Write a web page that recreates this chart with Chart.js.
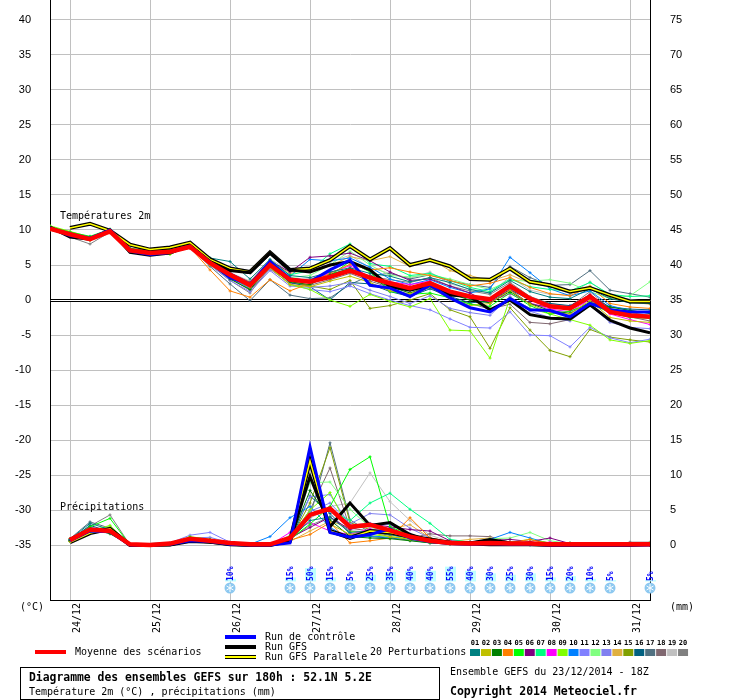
<!DOCTYPE html>
<html>
<head>
<meta charset="utf-8">
<script src="https://cdn.jsdelivr.net/npm/chart.js@4.4.1/dist/chart.umd.min.js"></script>
<style>
  html, body { margin: 0; padding: 0; background: #fff; }
  canvas { display: block; }
</style>
</head>
<body>
<canvas id="gefs" width="740" height="700"></canvas>
<script>
// time steps: 0..30, every 6h from 23/12 18Z (0h) to 180h
const dayLabels = ['24/12', '25/12', '26/12', '27/12', '28/12', '29/12', '30/12', '31/12'];
const dayIdx = [1, 5, 9, 13, 17, 21, 25, 29];
const leftTicks = [-35, -30, -25, -20, -15, -10, -5, 0, 5, 10, 15, 20, 25, 30, 35, 40];
const rightTicks = [0, 5, 10, 15, 20, 25, 30, 35, 40, 45, 50, 55, 60, 65, 70, 75];

const pertColors = ['#008080', '#c0c000', '#008000', '#ff8000', '#00ff00', '#800080', '#00ff80', '#ff00ff', '#80ff00', '#0080ff',
                    '#8080ff', '#80ff80', '#8080f0', '#e0b040', '#80a000', '#006080', '#507080', '#806870', '#c0c0c0', '#808080'];

// temperature 2m (°C)
const tMean    = [10.2, 9.4, 8.7, 9.8, 7.1, 6.7, 6.9, 7.6, 5.3, 3.6, 2.1, 5.0, 2.9, 2.6, 3.3, 4.2, 3.2, 2.4, 1.7, 2.4, 1.2, 0.5, 0.1, 2.0, 0.2, -0.9, -1.2, 0.5, -1.7, -2.2, -2.4];
const tControl = [10.3, 9.2, 8.8, 10.0, 7.0, 6.5, 6.8, 7.7, 5.4, 3.2, 2.2, 5.5, 3.0, 2.6, 4.3, 5.7, 2.1, 1.7, 0.5, 2.1, 0.3, -1.1, -1.7, 0.2, -1.4, -1.5, -2.4, -0.5, -1.4, -1.7, -1.7];
const tGfs     = [10.4, 9.0, 8.7, 10.0, 6.8, 6.4, 6.7, 7.8, 5.5, 4.2, 3.9, 6.7, 4.3, 4.0, 5.0, 5.5, 4.3, 1.9, 1.4, 2.1, 0.7, 0.5, -1.4, 0.0, -2.1, -2.6, -2.7, -0.7, -2.9, -4.0, -4.7];
const tPar     = [null, 10.3, 10.9, 9.9, 7.9, 7.2, 7.5, 8.2, 5.8, 4.5, 4.0, 6.8, 4.3, 4.5, 5.7, 7.7, 5.8, 7.4, 5.0, 5.7, 4.8, 3.0, 2.9, 4.5, 2.6, 2.1, 1.2, 1.7, 0.7, -0.2, -0.2];
const tPert = [
  [10.4, 9.6, 9.0, 10.0, 7.3, 6.9, 7.1, 7.9, 6.0, 5.5, 3.0, 5.8, 3.5, 3.2, 4.0, 4.6, 3.8, 3.4, 2.6, 3.2, 2.5, 1.5, 1.0, 2.8, 1.2, 0.4, 0.2, 1.6, 0.2, -0.4, -0.5],
  [10.0, 9.2, 8.5, 9.7, 6.9, 6.6, 6.8, 7.4, 5.0, 3.3, 1.8, 4.6, 2.2, 1.9, 2.7, 3.4, 2.5, 1.3, 0.9, 1.9, 0.2, -0.8, -0.5, 1.4, -0.6, -1.8, -2.0, -0.1, -2.5, -3.0, -3.2],
  [10.3, 9.5, 8.8, 9.9, 7.2, 6.8, 7.0, 7.6, 5.2, 3.0, 1.5, 4.8, 2.6, 2.2, 3.6, 4.5, 3.0, 1.9, 1.0, 2.0, 0.9, 0.0, -0.4, 1.2, -0.5, -1.5, -1.9, -0.3, -1.0, -1.5, -1.9],
  [10.2, 9.3, 8.6, 9.8, 7.0, 6.6, 6.8, 7.5, 4.3, 1.3, 0.4, 2.9, 1.3, 2.4, 3.8, 5.1, 4.3, 4.6, 4.0, 3.5, 2.8, 2.0, 2.4, 3.2, 1.8, 0.9, 0.6, 1.9, -0.5, -1.0, -1.2],
  [10.5, 9.7, 9.1, 10.1, 7.4, 7.0, 7.3, 7.9, 5.6, 3.8, 2.3, 5.3, 3.0, 2.7, 3.5, 5.5, 4.0, 1.2, 0.8, 1.0, 0.3, -0.6, -0.9, 1.0, -0.8, -2.0, -1.6, -0.5, -1.8, -2.5, -2.6],
  [10.1, 9.3, 8.7, 9.8, 7.1, 6.7, 6.9, 7.6, 5.4, 3.9, 2.5, 5.6, 4.0, 6.1, 6.3, 6.7, 5.6, 4.0, 2.8, 3.0, 2.0, 1.0, -0.5, 1.5, -0.6, -1.0, -0.9, 0.8, -1.3, -2.0, -2.6],
  [10.3, 9.5, 8.9, 10.0, 7.3, 6.9, 7.1, 7.7, 5.5, 3.7, 2.4, 5.4, 3.6, 4.2, 6.6, 8.0, 5.2, 4.8, 3.5, 3.8, 2.8, 1.8, 1.2, 3.0, 1.9, 1.5, 1.3, 2.5, 0.8, 0.5, 0.6],
  [10.2, 9.4, 8.8, 9.9, 7.2, 6.8, 7.0, 7.7, 5.4, 3.6, 2.2, 5.2, 3.1, 2.8, 3.9, 4.9, 3.3, 2.6, 2.2, 2.7, 1.0, 0.2, -0.2, 0.9, -0.4, -1.3, -1.7, 0.1, -2.0, -2.8, -3.5],
  [10.6, 9.8, 9.0, 10.1, 7.3, 6.5, 6.5, 7.8, 5.7, 3.4, 2.0, 4.7, 2.2, 1.5, 0.0, -0.9, 0.8, -0.2, -1.0, 0.2, -4.3, -4.4, -8.3, 0.3, -1.2, -2.0, -2.8, -3.6, -5.7, -6.2, -5.8],
  [10.3, 9.5, 8.8, 9.9, 7.2, 6.8, 7.0, 7.6, 5.4, 3.2, 1.8, 5.2, 3.4, 5.8, 5.6, 6.0, 4.7, 3.0, 2.2, 2.9, 1.8, 1.0, 1.6, 6.1, 3.9, 1.6, 0.6, 1.3, -0.8, -1.5, -1.9],
  [10.1, 9.3, 8.7, 9.8, 7.1, 6.7, 6.8, 7.5, 5.1, 3.2, 1.7, 4.5, 2.3, 1.5, 1.2, 2.0, 0.9, 0.0, -0.8, -1.4, -2.7, -3.9, -4.0, -1.7, -5.0, -5.1, -6.7, -3.9, -5.4, -6.1, -5.6],
  [10.4, 9.6, 8.9, 10.0, 7.2, 6.8, 7.0, 7.7, 5.3, 3.5, 2.0, 5.0, 3.2, 3.5, 5.0, 7.0, 5.0, 3.5, 3.3, 3.6, 3.0, 2.2, 1.5, 2.8, 2.7, 2.9, 2.4, 1.2, 0.2, 0.6, 2.6],
  [10.0, 9.2, 8.6, 9.7, 7.0, 6.6, 6.8, 7.5, 5.0, 2.8, 1.2, 4.2, 2.0, 1.8, 2.0, 2.5, 1.4, 0.5, -0.5, 0.6, -1.2, -1.8, -2.2, 0.5, -1.6, -2.5, -3.0, -0.8, -3.2, -3.9, -4.1],
  [10.2, 9.4, 8.7, 9.8, 7.1, 6.7, 6.9, 7.6, 5.4, 3.8, 2.6, 5.6, 3.8, 4.4, 4.9, 6.2, 5.6, 6.2, 4.8, 5.9, 4.2, 3.5, 2.7, 3.6, 2.4, 1.9, 1.3, 2.0, 0.3, -0.3, -0.6],
  [10.4, 9.5, 8.8, 9.9, 7.2, 6.7, 6.9, 7.6, 5.2, 3.4, 1.9, 4.6, 2.7, 2.0, 1.5, 2.8, -1.2, -0.8, 0.0, 0.9, -1.4, -2.4, -6.9, -1.1, -4.3, -7.2, -8.1, -4.2, -5.3, -5.7, -6.0],
  [10.1, 9.3, 8.6, 9.7, 7.0, 6.6, 6.8, 7.4, 5.0, 3.3, 1.6, 4.9, 2.5, 1.9, 0.0, 2.5, 2.3, 1.2, 0.5, 1.6, 0.5, -0.4, -0.2, 1.5, 0.0, -0.5, -0.8, 0.6, -1.0, -1.3, -1.4],
  [10.3, 9.4, 8.7, 9.8, 7.1, 6.7, 7.0, 7.6, 4.8, 2.3, -0.1, 2.9, 0.7, 0.2, 0.3, 2.2, 3.5, 3.8, 3.0, 3.6, 2.7, 2.2, 1.8, 4.8, 3.2, 2.1, 2.2, 4.2, 1.4, 0.9, 0.4],
  [10.2, 9.3, 8.7, 9.8, 7.0, 6.6, 6.9, 7.5, 5.1, 3.1, 1.4, 4.4, 2.4, 2.1, 2.9, 3.8, 2.7, 1.8, 0.6, 1.8, 0.1, -0.5, -1.3, -0.6, -3.2, -3.4, -2.8, 0.5, -1.5, -2.4, -3.0],
  [10.3, 9.6, 9.0, 10.1, 7.4, 7.0, 7.2, 7.8, 5.6, 3.9, 2.7, 5.8, 4.2, 4.6, 5.4, 6.4, 4.6, 3.8, 3.1, 4.0, 2.3, 1.6, 1.0, 3.3, 1.4, 0.8, 0.8, 2.6, 0.6, 0.1, -0.3],
  [10.2, 9.0, 8.0, 9.7, 7.0, 6.6, 6.8, 7.5, 5.0, 2.8, 1.0, 4.7, 2.9, 3.0, 3.7, 4.5, 3.4, 2.9, 2.5, 3.2, 2.0, 1.3, 0.8, 2.5, 0.5, -0.5, -0.9, 1.2, -1.2, -1.8, -2.2]
];

// precipitation (mm), right axis
const pMean    = [null, 0.7, 2.2, 2.0, 0.1, 0, 0.2, 0.9, 0.6, 0.3, 0.1, 0.1, 1.0, 4.3, 5.2, 2.6, 2.9, 2.1, 1.2, 0.6, 0.3, 0.2, 0.3, 0.2, 0.2, 0.1, 0.1, 0.1, 0.1, 0.1, 0.1];
const pControl = [null, 0.6, 2.0, 1.9, 0, 0, 0.1, 0.6, 0.5, 0.1, 0, 0, 0.3, 14.0, 1.8, 1.1, 1.5, 2.3, 1.0, 0.5, 0.2, 0.1, 0.2, 0.1, 0.1, 0, 0, 0, 0, 0, 0];
const pGfs     = [null, 0.8, 2.2, 2.0, 0, 0, 0, 0.5, 0.4, 0.1, 0, 0, 0.5, 9.8, 2.6, 6.0, 2.8, 3.2, 1.5, 0.6, 0.4, 0.3, 0.8, 0.3, 0.2, 0.1, 0.1, 0.1, 0.1, 0.2, 0.2];
const pPar     = [null, 0.4, 1.7, 2.3, 0, 0, 0.1, 0.7, 0.5, 0.1, 0, 0, 0.6, 12.0, 2.0, 1.0, 2.0, 1.8, 1.2, 0.8, 0.3, 0.2, 0.1, 0.1, 0.1, 0, 0, 0, 0, 0, 0.1];
const pPert = [
  [null, 0.8, 3.1, 2.2, 0, 0, 0.1, 0.8, 0.5, 0.2, 0, 0.1, 0.8, 3.5, 4.0, 1.8, 2.0, 1.5, 1.0, 0.4, 0.2, 0.1, 0.3, 0.2, 0.1, 0, 0, 0, 0, 0, 0],
  [null, 0.5, 1.8, 2.5, 0, 0, 0.2, 0.9, 0.6, 0.2, 0, 0.2, 1.2, 12.1, 3.0, 1.5, 1.8, 1.2, 0.8, 0.4, 0.2, 0.1, 0.2, 0.1, 0.1, 0, 0, 0, 0, 0, 0],
  [null, 0.6, 2.4, 1.6, 0, 0, 0.1, 1.0, 0.7, 0.3, 0, 0, 0.6, 7.8, 3.6, 1.2, 1.0, 0.9, 0.6, 0.3, 0.2, 0.2, 0.4, 0.1, 0.1, 0.1, 0.3, 0.1, 0, 0.1, 0.1],
  [null, 0.9, 2.0, 1.8, 0, 0, 0.2, 0.8, 0.4, 0.2, 0, 0, 0.7, 1.5, 3.2, 0.3, 0.6, 1.0, 3.9, 1.0, 0.5, 0.3, 0.6, 0.3, 0.8, 0.1, 0.1, 0, 0, 0, 0],
  [null, 0.7, 2.6, 3.8, 0, 0, 0.2, 1.1, 0.8, 0.3, 0, 0, 0.8, 3.0, 5.5, 10.8, 12.6, 2.6, 1.4, 0.8, 0.3, 0.2, 0.4, 0.2, 0.1, 0, 0, 0, 0, 0, 0],
  [null, 0.6, 2.1, 2.0, 0, 0, 0.1, 0.9, 0.7, 0.3, 0, 0, 1.0, 2.5, 4.0, 2.2, 3.0, 2.6, 2.2, 2.0, 0.6, 0.4, 0.6, 0.8, 0.5, 1.0, 0.2, 0.1, 0, 0, 0],
  [null, 0.8, 2.2, 2.4, 0, 0, 0.2, 1.0, 0.6, 0.2, 0, 0, 1.2, 4.5, 5.0, 3.5, 6.0, 7.4, 5.1, 3.1, 0.8, 0.4, 0.3, 0.2, 0.2, 0.1, 0, 0, 0, 0, 0],
  [null, 0.7, 2.3, 1.7, 0, 0, 0.1, 0.7, 0.6, 0.3, 0, 0, 1.8, 3.2, 2.0, 1.5, 2.3, 1.8, 1.0, 0.5, 0.2, 0.2, 0.2, 0.1, 0.1, 0.4, 0.1, 0, 0, 0, 0],
  [null, 0.5, 2.0, 2.8, 0, 0, 0.2, 1.2, 0.8, 0.2, 0, 0, 0.9, 5.0, 7.5, 2.0, 1.5, 1.2, 0.9, 0.8, 0.5, 0.3, 0.6, 0.4, 0.8, 0.3, 0.1, 0, 0, 0, 0.3],
  [null, 0.6, 2.5, 2.1, 0, 0, 0.2, 0.8, 0.5, 0.2, 0.1, 1.2, 3.9, 5.5, 2.5, 1.0, 1.3, 1.1, 0.8, 0.5, 0.3, 0.4, 0.8, 1.8, 1.0, 0.2, 0.1, 0, 0, 0, 0],
  [null, 0.5, 1.9, 1.8, 0, 0, 0.3, 1.4, 1.8, 0.4, 0, 0, 1.1, 6.9, 7.2, 2.8, 3.1, 2.9, 1.6, 0.7, 0.3, 0.2, 0.2, 0.1, 0.1, 0, 0, 0, 0, 0, 0],
  [null, 0.6, 2.2, 2.6, 0, 0, 0.1, 0.9, 0.7, 0.3, 0, 0, 1.4, 8.9, 9.0, 5.1, 2.5, 2.0, 1.4, 0.6, 0.3, 0.2, 0.9, 1.0, 1.8, 0.6, 0.2, 0, 0, 0, 0.3],
  [null, 0.7, 2.0, 1.9, 0, 0, 0.2, 1.0, 1.1, 0.3, 0, 0, 0.8, 4.8, 6.0, 3.0, 4.5, 4.3, 2.4, 1.0, 0.4, 0.3, 0.3, 0.2, 0.1, 0, 0, 0, 0, 0, 0],
  [null, 0.8, 2.4, 2.2, 0, 0, 0.2, 0.8, 0.6, 0.2, 0, 0, 0.5, 2.0, 3.4, 2.5, 2.6, 2.3, 2.9, 1.0, 0.5, 0.8, 1.0, 0.3, 0.2, 0.1, 0, 0, 0, 0, 0],
  [null, 0.6, 2.1, 2.1, 0, 0, 0.1, 0.9, 0.5, 0.2, 0, 0, 0.7, 6.0, 13.9, 3.2, 2.2, 1.6, 1.0, 0.5, 0.3, 0.2, 0.2, 0.1, 0.1, 0, 0, 0, 0, 0, 0],
  [null, 0.7, 2.8, 1.9, 0, 0, 0.1, 0.8, 0.6, 0.2, 0, 0, 0.5, 7.0, 4.5, 1.6, 1.2, 1.0, 0.7, 0.3, 0.1, 0.1, 0.1, 0.1, 0, 0, 0, 0, 0, 0, 0],
  [null, 0.9, 3.3, 2.4, 0, 0, 0.2, 1.0, 0.7, 0.3, 0, 0, 0.6, 4.0, 14.6, 3.6, 1.8, 1.4, 1.1, 0.6, 0.3, 0.2, 0.3, 0.2, 0.1, 0, 0, 0, 0, 0, 0],
  [null, 0.6, 2.3, 2.0, 0, 0, 0.1, 0.9, 0.6, 0.2, 0, 0, 1.0, 5.0, 11.0, 2.4, 2.0, 1.6, 1.0, 1.6, 1.3, 1.3, 1.2, 0.4, 0.3, 0.1, 0, 0, 0, 0.4, 0.4],
  [null, 0.5, 2.0, 2.7, 0, 0, 0.2, 1.0, 0.7, 0.3, 0, 0, 0.9, 3.8, 5.5, 6.0, 10.3, 6.2, 3.5, 1.4, 0.5, 0.3, 0.4, 0.2, 0.1, 0, 0, 0, 0, 0, 0],
  [null, 0.8, 2.7, 4.3, 0, 0, 0.2, 1.0, 0.6, 0.2, 0, 0, 0.8, 2.8, 4.0, 2.0, 1.9, 1.5, 0.9, 0.5, 0.2, 0.1, 0.2, 0.1, 0.1, 0, 0, 0, 0, 0, 0]
];

// snow probability (%) per time step
const snowPct = [null, null, null, null, null, null, null, null, null, 10, null, null, 15, 50, 15, 5, 25, 35, 40, 40, 55, 40, 30, 25, 30, 15, 20, 10, 5, null, 5];

const pts = arr => arr.map((v, i) => ({ x: i, y: v }));

function serie(arr, axis, color, width, order, marks) {
  return {
    data: pts(arr),
    yAxisID: axis,
    borderColor: color,
    backgroundColor: color,
    borderWidth: width,
    pointRadius: marks ? 1.5 : 0,
    pointStyle: 'cross',
    pointBorderWidth: 1,
    tension: 0,
    fill: false,
    spanGaps: false,
    order: order
  };
}

const datasets = [];
[['y', tMean, tControl, tGfs, tPar, tPert], ['y2', pMean, pControl, pGfs, pPar, pPert]].forEach(g => {
  const [ax, mean, ctl, gfs, par, pert] = g;
  datasets.push(serie(mean, ax, '#ff0000', 4.5, 0));
  datasets.push(serie(ctl, ax, '#0000ff', 3, 1));
  datasets.push(serie(gfs, ax, '#000000', 3, 2));
  datasets.push(serie(par, ax, '#ffff00', 1.5, 3));
  datasets.push(serie(par, ax, '#000000', 4, 4));
  pert.forEach((p, k) => datasets.push(serie(p, ax, pertColors[k], 1, 10 + k, true)));
});

const tickFont = { family: 'Liberation Sans', size: 11 };

// fixed box sizes, no extra label padding
function fixBox(w, h) {
  return s => {
    if (w != null) s.width = w;
    if (h != null) s.height = h;
    s.paddingTop = 0; s.paddingBottom = 0; s.paddingLeft = 0; s.paddingRight = 0;
  };
}

const decor = {
  id: 'decor',
  beforeDatasetsDraw(chart) {
    const ctx = chart.ctx, a = chart.chartArea;
    const y0 = Math.round(chart.scales.y.getPixelForValue(0));
    ctx.save();
    ctx.fillStyle = '#000';
    ctx.fillRect(a.left, y0 - 1, a.right - a.left, 1);
    ctx.fillRect(a.left, y0 + 1, a.right - a.left, 1);
    ctx.fillStyle = '#fff';
    ctx.fillRect(a.left + 1, y0, a.right - a.left - 1, 1);
    ctx.restore();
  },
  afterDraw(chart) {
    const ctx = chart.ctx, xs = chart.scales.x;
    const mono = '"DejaVu Sans Mono", monospace';
    ctx.save();
    ctx.textBaseline = 'middle';
    ctx.fillStyle = '#000';
    ctx.font = '10px ' + mono;
    ctx.fillText('Températures 2m', 60, 216);
    ctx.fillText('Précipitations', 60, 507);
    ctx.fillText('(°C)', 20, 607);
    ctx.fillText('(mm)', 670, 607);

    // day labels
    dayLabels.forEach((d, k) => {
      ctx.save();
      ctx.translate(xs.getPixelForValue(dayIdx[k]) + 7.5, 603);
      ctx.rotate(-Math.PI / 2);
      ctx.textAlign = 'right';
      ctx.fillText(d, 0, 0);
      ctx.restore();
    });

    // snow probability
    snowPct.forEach((p, i) => {
      if (p == null) return;
      const px = xs.getPixelForValue(i);
      const h = p * 0.27;
      ctx.fillStyle = '#c0ffff';
      ctx.fillRect(px - 5, 581.5 - h, 11, h);
      ctx.save();
      ctx.translate(px + 0.5, 581);
      ctx.rotate(-Math.PI / 2);
      ctx.textAlign = 'left';
      ctx.fillStyle = '#0000ff';
      ctx.font = 'bold 8px ' + mono;
      ctx.fillText(p + '%', 0, 0);
      ctx.restore();
      // flake
      ctx.fillStyle = '#8cc8f0';
      ctx.beginPath();
      ctx.arc(px, 588, 5.5, 0, Math.PI * 2);
      ctx.fill();
      ctx.strokeStyle = '#ffffff';
      ctx.lineWidth = 1;
      for (let a = 0; a < 3; a++) {
        const an = a * Math.PI / 3 + Math.PI / 2;
        ctx.beginPath();
        ctx.moveTo(px - 4 * Math.cos(an), 588 - 4 * Math.sin(an));
        ctx.lineTo(px + 4 * Math.cos(an), 588 + 4 * Math.sin(an));
        ctx.stroke();
      }
    });

    // legend
    ctx.font = '10px ' + mono;
    ctx.textAlign = 'left';
    ctx.fillStyle = '#ff0000';
    ctx.fillRect(35, 650, 31, 4);
    ctx.fillStyle = '#0000ff';
    ctx.fillRect(225, 635, 31, 4);
    ctx.fillStyle = '#000';
    ctx.fillRect(225, 645, 31, 4);
    ctx.fillRect(225, 655, 31, 4);
    ctx.fillStyle = '#ffff00';
    ctx.fillRect(225, 656, 31, 2);
    ctx.fillStyle = '#000';
    ctx.fillText('Moyenne des scénarios', 75, 652);
    ctx.fillText('Run de contrôle', 265, 637);
    ctx.fillText('Run GFS', 265, 647);
    ctx.fillText('Run GFS Parallele', 265, 657);
    ctx.fillText('20 Perturbations', 370, 652);

    ctx.font = 'bold 7px ' + mono;
    ctx.textAlign = 'center';
    pertColors.forEach((c, k) => {
      const x0 = 470 + k * 10.95;
      ctx.fillStyle = c;
      ctx.fillRect(x0, 649, 10, 7);
      ctx.fillStyle = '#000';
      ctx.fillText(String(k + 1).padStart(2, '0'), x0 + 5, 643);
    });

    // title box
    ctx.textAlign = 'left';
    ctx.strokeStyle = '#000';
    ctx.lineWidth = 1;
    ctx.strokeRect(20.5, 667.5, 419, 32);
    ctx.font = 'bold 11.4px ' + mono;
    ctx.fillText('Diagramme des ensembles GEFS sur 180h : 52.1N 5.2E', 29, 678);
    ctx.font = '10px ' + mono;
    ctx.fillText('Température 2m (°C) , précipitations (mm)', 29, 692);
    ctx.fillText('Ensemble GEFS du 23/12/2014 - 18Z', 450, 672);
    ctx.font = 'bold 11.5px ' + mono;
    ctx.fillText('Copyright 2014 Meteociel.fr', 450, 692);
    ctx.restore();
  }
};

new Chart(document.getElementById('gefs'), {
  type: 'line',
  data: { datasets: datasets },
  options: {
    responsive: false,
    animation: false,
    devicePixelRatio: 1,
    layout: { padding: 0, autoPadding: false },
    plugins: { legend: { display: false }, tooltip: { enabled: false } },
    scales: {
      x: {
        type: 'linear', min: 0, max: 30,
        afterBuildTicks: s => { s.ticks = dayIdx.map(v => ({ value: v })); },
        afterFit: fixBox(null, 100),
        ticks: { display: false },
        grid: { color: '#c0c0c0', drawTicks: false },
        border: { color: '#000' }
      },
      y: {
        position: 'left', min: -300 / 7, max: 300 / 7,
        afterBuildTicks: s => { s.ticks = leftTicks.map(v => ({ value: v })); },
        afterFit: fixBox(50, null),
        ticks: { color: '#000', font: tickFont, padding: 19 },
        grid: { color: '#c0c0c0', drawTicks: false },
        border: { color: '#000' }
      },
      y2: {
        position: 'right', min: -300 / 7 + 35, max: 300 / 7 + 35,
        afterBuildTicks: s => { s.ticks = rightTicks.map(v => ({ value: v })); },
        afterFit: fixBox(90, null),
        ticks: { color: '#000', font: tickFont, padding: 20 },
        grid: { display: false, drawTicks: false },
        border: { color: '#000' }
      }
    }
  },
  plugins: [decor]
});
</script>
</body>
</html>
